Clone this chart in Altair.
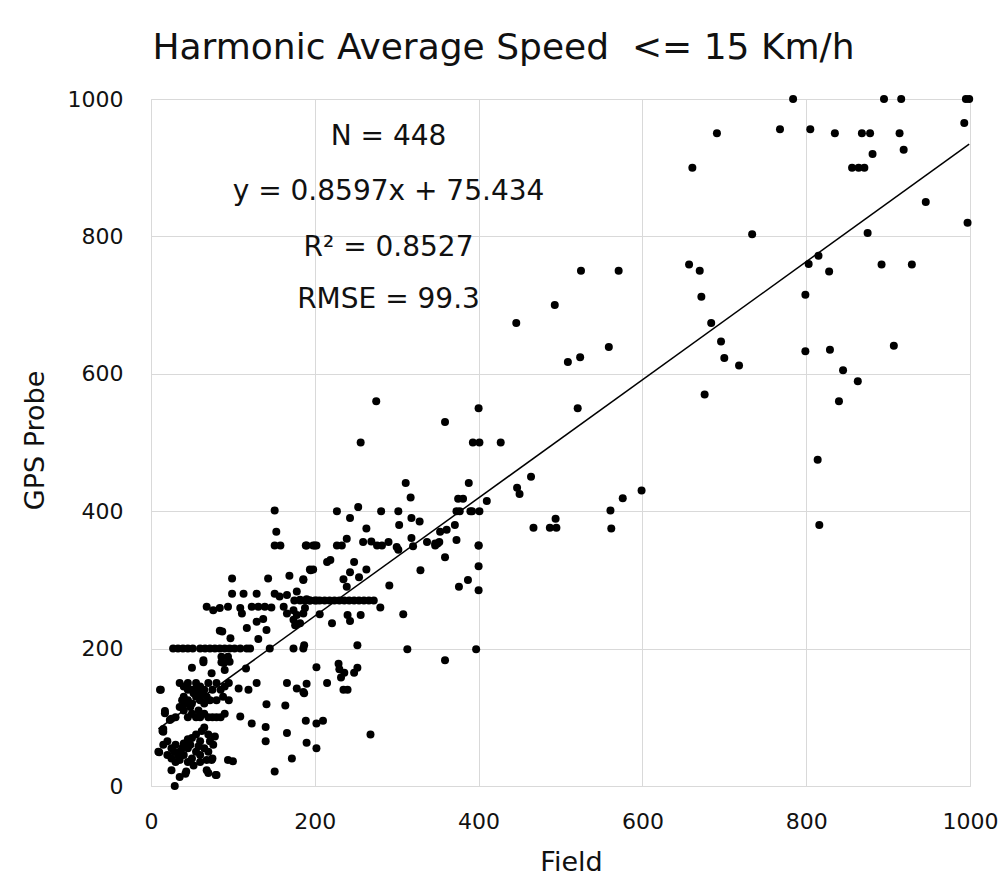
import altair as alt
import pandas as pd

# ---- data (Field, GPS Probe) ----
field = [
    # upper right
    784, 895, 916, 995, 999, 691, 768, 805, 835, 868, 878, 914, 993,
    881, 919, 661, 856, 864, 871, 946, 997, 734, 875,
    657, 670, 803, 815, 828, 892, 929, 672, 799, 684, 696, 700, 718,
    799, 829, 907, 845, 863, 676, 840, 814, 816, 599,
    # middle
    525, 571, 446, 493, 559, 509, 524, 521, 400, 359, 393, 401, 427,
    388, 464, 447, 450, 375, 381, 410, 377, 392, 401, 576, 561, 562,
    494, 467, 487, 495, 371, 353, 361, 373, 400, 347, 350, 359,
    # 200-400
    275, 256, 311, 317, 227, 253, 281, 302, 243, 263, 303, 318, 328, 373, 390,
    190, 200, 227, 233, 239, 259, 269, 276, 282, 290, 300, 302, 318, 320, 337, 347, 352,
    215, 219, 194, 198, 186, 248, 243, 263, 235, 239, 254, 329, 291, 387, 376, 400, 400, 400,
    175, 182, 188, 194, 200, 206, 212, 218, 224, 230, 236, 242, 248, 254, 260, 266, 272,
    280, 308, 206, 221, 240, 243, 256, 186, 182, 187, 252, 313, 397, 359,
    187, 202, 229, 232, 236, 235, 190, 202, 268, 210, 230, 240, 215, 252, 248,
    # 100-200
    151, 153, 151, 158, 189, 198, 202, 195, 169, 99, 143, 186,
    99, 113, 129, 151, 157, 166, 178, 182, 190, 194, 202,
    68, 76, 84, 94, 109, 111, 123, 131, 139, 147, 162, 166, 174, 178, 188,
    129, 137, 141, 174, 176, 84, 97, 131, 87, 117,
    27, 33, 39, 45, 51, 60, 66, 72, 78, 84, 90, 96, 102, 109, 117, 121, 145, 174, 186,
    86, 94, 89, 64, 74, 50, 202, 129, 116, 96, 90, 64, 86,
    11, 107, 119, 166, 178, 186, 190, 141, 164, 109, 123, 140, 140, 166, 189, 172,
    151, 74, 94, 100, 25, 68, 80, 29, 35, 43, 15, 17, 9, 14, 10, 42, 70, 79,
    # dense cluster 30-100 / 95-155
    35, 40, 45, 50, 55, 60, 65, 70, 75, 80, 85, 90, 95, 40, 45, 50, 55, 60, 65,
    35, 40, 45, 50, 55, 60, 65, 70, 75, 80, 85, 90, 30, 25, 45, 55, 52, 48, 58,
    42, 38, 62, 68, 72, 80, 88, 95,
    # dense cluster 10-80 / 30-80
    15, 20, 25, 30, 35, 40, 45, 50, 55, 60, 65, 70, 75, 20, 25, 30, 35, 40, 45,
    50, 55, 60, 62, 65, 70, 72, 28, 33, 48, 58, 38, 52, 45, 60, 68, 76, 78,
    17, 23, 15, 12,
]
gps = [
    1000, 1000, 1000, 1000, 1000, 950, 956, 956, 950, 950, 950, 950, 965,
    920, 926, 900, 900, 900, 900, 850, 820, 803, 805,
    759, 750, 760, 772, 749, 759, 759, 712, 715, 674, 647, 623, 612,
    633, 635, 641, 605, 589, 570, 560, 475, 380, 430,
    750, 750, 674, 700, 639, 617, 624, 550, 550, 530, 500, 500, 500,
    441, 450, 434, 425, 418, 418, 415, 400, 400, 400, 419, 401, 375,
    389, 376, 376, 376, 380, 370, 373, 358, 350, 353, 353, 333,
    560, 500, 441, 420, 400, 406, 400, 400, 390, 375, 380, 390, 385, 400, 400,
    350, 350, 350, 350, 360, 355, 356, 350, 350, 355, 348, 344, 361, 349, 355, 350, 355,
    326, 329, 315, 315, 300, 326, 311, 315, 301, 290, 304, 314, 292, 300, 290, 285, 320, 350,
    270, 270, 270, 270, 270, 270, 270, 270, 270, 270, 270, 270, 270, 270, 270, 270, 270,
    260, 250, 250, 237, 249, 240, 249, 251, 237, 205, 205, 199, 199, 183,
    135, 91, 178, 158, 165, 140, 63, 55, 75, 95, 170, 140, 150, 172, 165,
    401, 370, 350, 350, 350, 350, 350, 314, 306, 302, 302, 301,
    280, 280, 280, 280, 276, 278, 283, 271, 272, 270, 270,
    261, 256, 259, 261, 259, 251, 261, 261, 261, 260, 261, 251, 256, 249, 259,
    239, 243, 227, 242, 234, 226, 215, 214, 225, 230,
    200, 200, 200, 200, 200, 200, 200, 200, 200, 200, 200, 200, 200, 200, 200, 200, 200, 200, 200,
    188, 188, 179, 183, 164, 172, 173, 150, 171, 181, 169, 180, 180,
    140, 142, 140, 150, 142, 137, 149, 119, 117, 101, 91, 86, 65, 77, 95, 40,
    21, 38, 38, 36, 23, 23, 16, 0, 13, 21, 79, 106, 50, 80, 49, 18, 19, 16,
    150, 145, 150, 140, 150, 145, 140, 150, 140, 150, 140, 145, 150, 130, 125, 120, 130, 125, 120,
    115, 110, 100, 105, 100, 100, 105, 100, 100, 100, 100, 105, 100, 98, 140, 140, 135, 115, 110,
    120, 125, 135, 130, 125, 125, 130, 125,
    60, 65, 55, 60, 50, 45, 55, 40, 50, 45, 55, 50, 40, 45, 40, 35, 38, 62, 68,
    70, 75, 65, 80, 85, 75, 65, 50, 45, 60, 58, 55, 30, 35, 35, 38, 60, 72,
    109, 96, 83, 140,
]

slope = 0.8597
intercept = 75.434
title_text = "Harmonic Average Speed \u00a0<= 15 Km/h"
tick_values = [0, 200, 400, 600, 800, 1000]
annot_lines = ["N = 448", "y = 0.8597x + 75.434", "R\u00b2 = 0.8527", "RMSE = 99.3"]
annot_x = [290, 290, 290, 290]
annot_y = [945, 865, 783, 707]

FONT = "DejaVu Sans"
TXT = "#111111"
GRID = "#d9d9d9"

df = pd.DataFrame({"Field": field, "GPS Probe": gps})
xmin, xmax = min(field), max(field)
line_df = pd.DataFrame({
    "Field": [xmin, xmax],
    "GPS Probe": [slope * xmin + intercept, slope * xmax + intercept],
})
annot_df = pd.DataFrame({"x": annot_x, "y": annot_y, "label": annot_lines})

xs = alt.Scale(domain=[0, 1000], nice=False, zero=False)
ys = alt.Scale(domain=[0, 1000], nice=False, zero=False)

x_axis = alt.Axis(
    values=tick_values, format="d", grid=True, gridColor=GRID, gridWidth=1,
    domain=False, ticks=False, tickSize=0, labelPadding=25,
    labelFontSize=22, labelFont=FONT, labelColor=TXT, labelFlush=False,
    title="Field", titleFont=FONT, titleFontSize=27, titleFontWeight="normal",
    titleColor=TXT, titleX=420, titleY=76, titleBaseline="middle", titleAlign="center",
)
y_axis = alt.Axis(
    values=tick_values, format="d", grid=True, gridColor=GRID, gridWidth=1,
    domain=False, ticks=False, tickSize=0, labelPadding=28,
    labelFontSize=22, labelFont=FONT, labelColor=TXT, labelFlush=False,
    title="GPS Probe", titleFont=FONT, titleFontSize=27, titleFontWeight="normal",
    titleColor=TXT, titleX=-116, titleY=341, titleAngle=270,
    titleBaseline="middle", titleAlign="center",
)

points = alt.Chart(df).mark_circle(size=64, color="black", opacity=1).encode(
    x=alt.X("Field:Q", scale=xs, axis=x_axis),
    y=alt.Y("GPS Probe:Q", scale=ys, axis=y_axis),
)
trend = alt.Chart(line_df).mark_line(color="black", strokeWidth=1.5).encode(
    x=alt.X("Field:Q", scale=xs),
    y=alt.Y("GPS Probe:Q", scale=ys),
)
annot = alt.Chart(annot_df).mark_text(
    font=FONT, fontSize=28, color=TXT, align="center", baseline="middle"
).encode(
    x=alt.X("x:Q", scale=xs),
    y=alt.Y("y:Q", scale=ys),
    text="label:N",
)

chart = alt.layer(points, trend, annot).properties(
    width=819,
    height=687,
    autosize="none",
    padding={"left": 151, "top": 99, "right": 38, "bottom": 98},
    title=alt.TitleParams(
        text=title_text, font=FONT, fontSize=36, fontWeight="normal",
        color=TXT, anchor="middle", dx=-57, dy=7, baseline="alphabetic", offset=0,
    ),
).configure_view(stroke=None).configure(background="white")

chart.save("out.html", embed_options={"renderer": "svg", "actions": False})
